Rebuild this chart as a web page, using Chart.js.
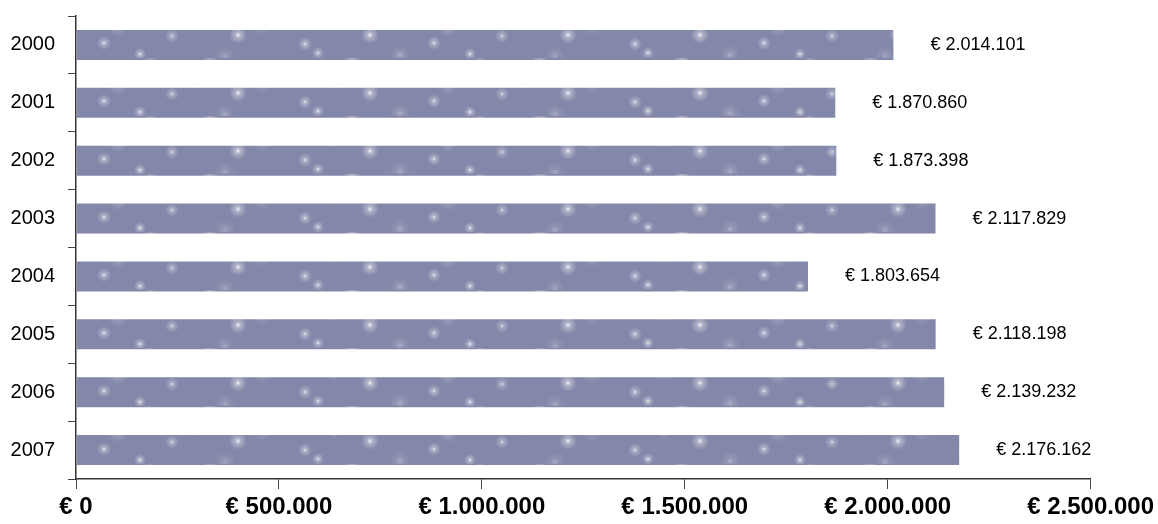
<!DOCTYPE html>
<html>
<head>
<meta charset="utf-8">
<script src="https://cdn.jsdelivr.net/npm/chart.js@4/dist/chart.umd.min.js"></script>
<style>
  html, body { margin: 0; padding: 0; background: #fff; }
  #wrap { width: 1158px; height: 524px; }
</style>
</head>
<body>
<div id="wrap"><canvas id="chart" width="1158" height="524"></canvas></div>
<script>
const years = ['2000', '2001', '2002', '2003', '2004', '2005', '2006', '2007'];
const amounts = [2014101, 1870860, 1873398, 2117829, 1803654, 2118198, 2139232, 2176162];
const xMax = 2500000;
const xStep = 500000;

const barColor = '#8387a9';
const fontFam = 'Arial, "Liberation Sans", sans-serif';

function euro(v) {
  return '€ ' + Math.round(v).toString().replace(/\B(?=(\d{3})+(?!\d))/g, '.');
}

// soft white speckles like the original bar fill
function makeFill(ctx) {
  const c = document.createElement('canvas');
  c.width = 330; c.height = 58;
  const g = c.getContext('2d');
  g.fillStyle = barColor;
  g.fillRect(0, 0, c.width, c.height);
  const spots = [
    [22, 5, 4, 1], [93, 12, 2, 0.8], [150, 5, 2, 0.7], [210, 6, 4, 1], [282, 13, 2, 0.8],
    [4, 25, 1, 0.9], [118, 27, 5, 0.4], [196, 24, 1, 0.9], [262, 26, 5, 0.3],
    [40, 35, 4, 0.9], [104, 43, 2, 0.8], [172, 36, 2, 0.7], [238, 35, 4, 0.9], [305, 44, 2, 0.8],
    [70, 55, 5, 0.35], [140, 54, 1, 0.9], [225, 56, 5, 0.3], [318, 53, 1, 0.9],
  ];
  spots.forEach(([x, y, r, a]) => {
    const rg = g.createRadialGradient(x, y, 0, x, y, r + 5);
    rg.addColorStop(0, 'rgba(255,255,255,' + a + ')');
    rg.addColorStop(0.3, 'rgba(255,255,255,' + (a * 0.4) + ')');
    rg.addColorStop(1, 'rgba(255,255,255,0)');
    g.fillStyle = rg;
    g.fillRect(x - r - 5, y - r - 5, 2 * r + 10, 2 * r + 10);
  });
  return ctx.createPattern(c, 'repeat');
}

const valueLabels = {
  id: 'valueLabels',
  afterDatasetsDraw(chart) {
    const ctx = chart.ctx;
    const meta = chart.getDatasetMeta(0);
    ctx.save();
    ctx.font = '18px ' + fontFam;
    ctx.fillStyle = '#000';
    ctx.textAlign = 'left';
    ctx.textBaseline = 'middle';
    meta.data.forEach((bar, i) => {
      ctx.fillText(euro(amounts[i]), bar.x + 37, bar.y);
    });
    ctx.restore();
  }
};

const canvas = document.getElementById('chart');
const ctx = canvas.getContext('2d');

new Chart(canvas, {
  type: 'bar',
  data: {
    labels: years,
    datasets: [{
      data: amounts,
      backgroundColor: makeFill(ctx),
      borderWidth: 0,
      categoryPercentage: 1,
      barPercentage: 0.52,
    }],
  },
  options: {
    indexAxis: 'y',
    responsive: false,
    animation: false,
    layout: { padding: { top: 16, right: 5, left: 10, bottom: 0 } },
    plugins: { legend: { display: false }, tooltip: { enabled: false } },
    scales: {
      x: {
        min: 0,
        max: xMax,
        afterFit: s => { s.height = 45; },
        ticks: {
          stepSize: xStep,
          color: '#000',
          padding: 4,
          maxRotation: 0,
          font: { family: fontFam, size: 24, weight: 'bold' },
          callback: v => euro(v),
        },
        grid: { drawOnChartArea: false, tickLength: 10, color: '#444', lineWidth: 1 },
        border: { color: '#333', width: 1.5 },
      },
      y: {
        afterFit: s => { s.width = 66; s.paddingTop = 0; s.paddingBottom = 0; },
        ticks: {
          color: '#000',
          padding: 13,
          font: { family: fontFam, size: 20 },
        },
        grid: { drawOnChartArea: false, offset: true, tickLength: 8, color: '#444', lineWidth: 1 },
        border: { color: '#333', width: 1.5 },
      },
    },
  },
  plugins: [valueLabels],
});
</script>
</body>
</html>
